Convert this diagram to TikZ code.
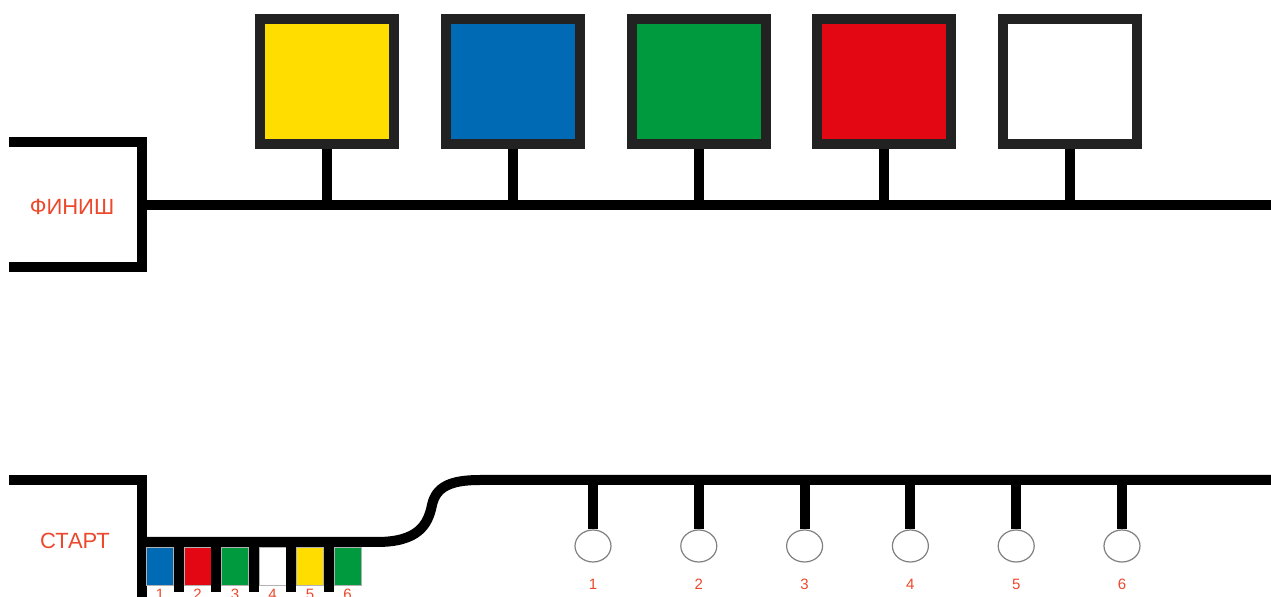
\documentclass[tikz,border=0pt]{standalone}
\usepackage{fontspec}
\setmainfont{Liberation Sans}
\usetikzlibrary{shapes.geometric}
\definecolor{TrackYellow}{RGB}{255,221,0}
\definecolor{TrackBlue}{RGB}{0,106,180}
\definecolor{TrackGreen}{RGB}{0,154,62}
\definecolor{TrackRed}{RGB}{227,6,19}
\definecolor{FrameGray}{RGB}{34,34,34}
\definecolor{LabelRed}{RGB}{236,72,44}
\tikzset{
  track/.style={line width=5pt,black},
  tile/.style={draw=FrameGray,line width=5pt,inner sep=0pt,
    minimum width=67pt,minimum height=62.5pt},
  chip/.style={draw=gray!60,line width=0.4pt,inner sep=0pt,
    minimum width=13.5pt,minimum height=19pt},
  pad/.style={ellipse,draw=gray,line width=0.6pt,fill=white,inner sep=0pt,
    minimum width=18pt,minimum height=16pt},
  sign/.style={text=LabelRed,font=\fontsize{11}{13}\selectfont,inner sep=0pt},
  num/.style={text=LabelRed,font=\fontsize{7.5}{9}\selectfont,inner sep=0pt}
}

\begin{document}
\begin{tikzpicture}[x=0.5pt,y=-0.5pt]
  \useasboundingbox (0,0) rectangle (1271,597);
  % finish side
  \draw[track] (9,142) -- (142,142) -- (142,267) -- (9,267);
  \coordinate (finline) at (142,205);
  \draw[track] (finline) -- (1280,205);
  \node[sign] (finish) at (72,207) {ФИНИШ};
  \foreach \c [count=\i] in {TrackYellow,TrackBlue,TrackGreen,TrackRed,white}{
    \node[tile,fill=\c] (tile\i) at ({327+185.75*(\i-1)},81.5) {};
    \draw[track] (tile\i.south) -- (tile\i.south |- finline);
  }
  % start side
  \draw[track] (9,480) -- (142,480) -- (142,605);
  \coordinate (startline) at (142,542);
  \coordinate (runline) at (480,480);
  \coordinate (chipfoot) at (142,592);
  \draw[track] (startline) -- (377,542)
    .. controls (418,542) and (428,525) .. (432,505)
    .. controls (436,487) and (450,480) .. (runline) -- (1280,480);
  \node[sign] (start) at (75,541) {СТАРТ};
  \foreach \c [count=\i] in {TrackBlue,TrackRed,TrackGreen,white,TrackYellow,TrackGreen}{
    \node[chip,fill=\c] (chip\i) at ({160+37.5*(\i-1)},566) {};
    \node[num] (chipnum\i) at ({160+37.5*(\i-1)},594) {\i};
  }
  \foreach \i in {1,...,5}
    \draw[track] ([xshift=2.5pt]chip\i.east |- startline) -- ([xshift=2.5pt]chip\i.east |- chipfoot);
  % pads
  \foreach \i in {1,...,6}{
    \node[pad] (pad\i) at ({593+105.8*(\i-1)},546) {};
    \draw[track] (pad\i.north) -- (pad\i.north |- runline);
    \node[num] (padnum\i) at ({593+105.8*(\i-1)},584) {\i};
  }
\end{tikzpicture}
\end{document}
